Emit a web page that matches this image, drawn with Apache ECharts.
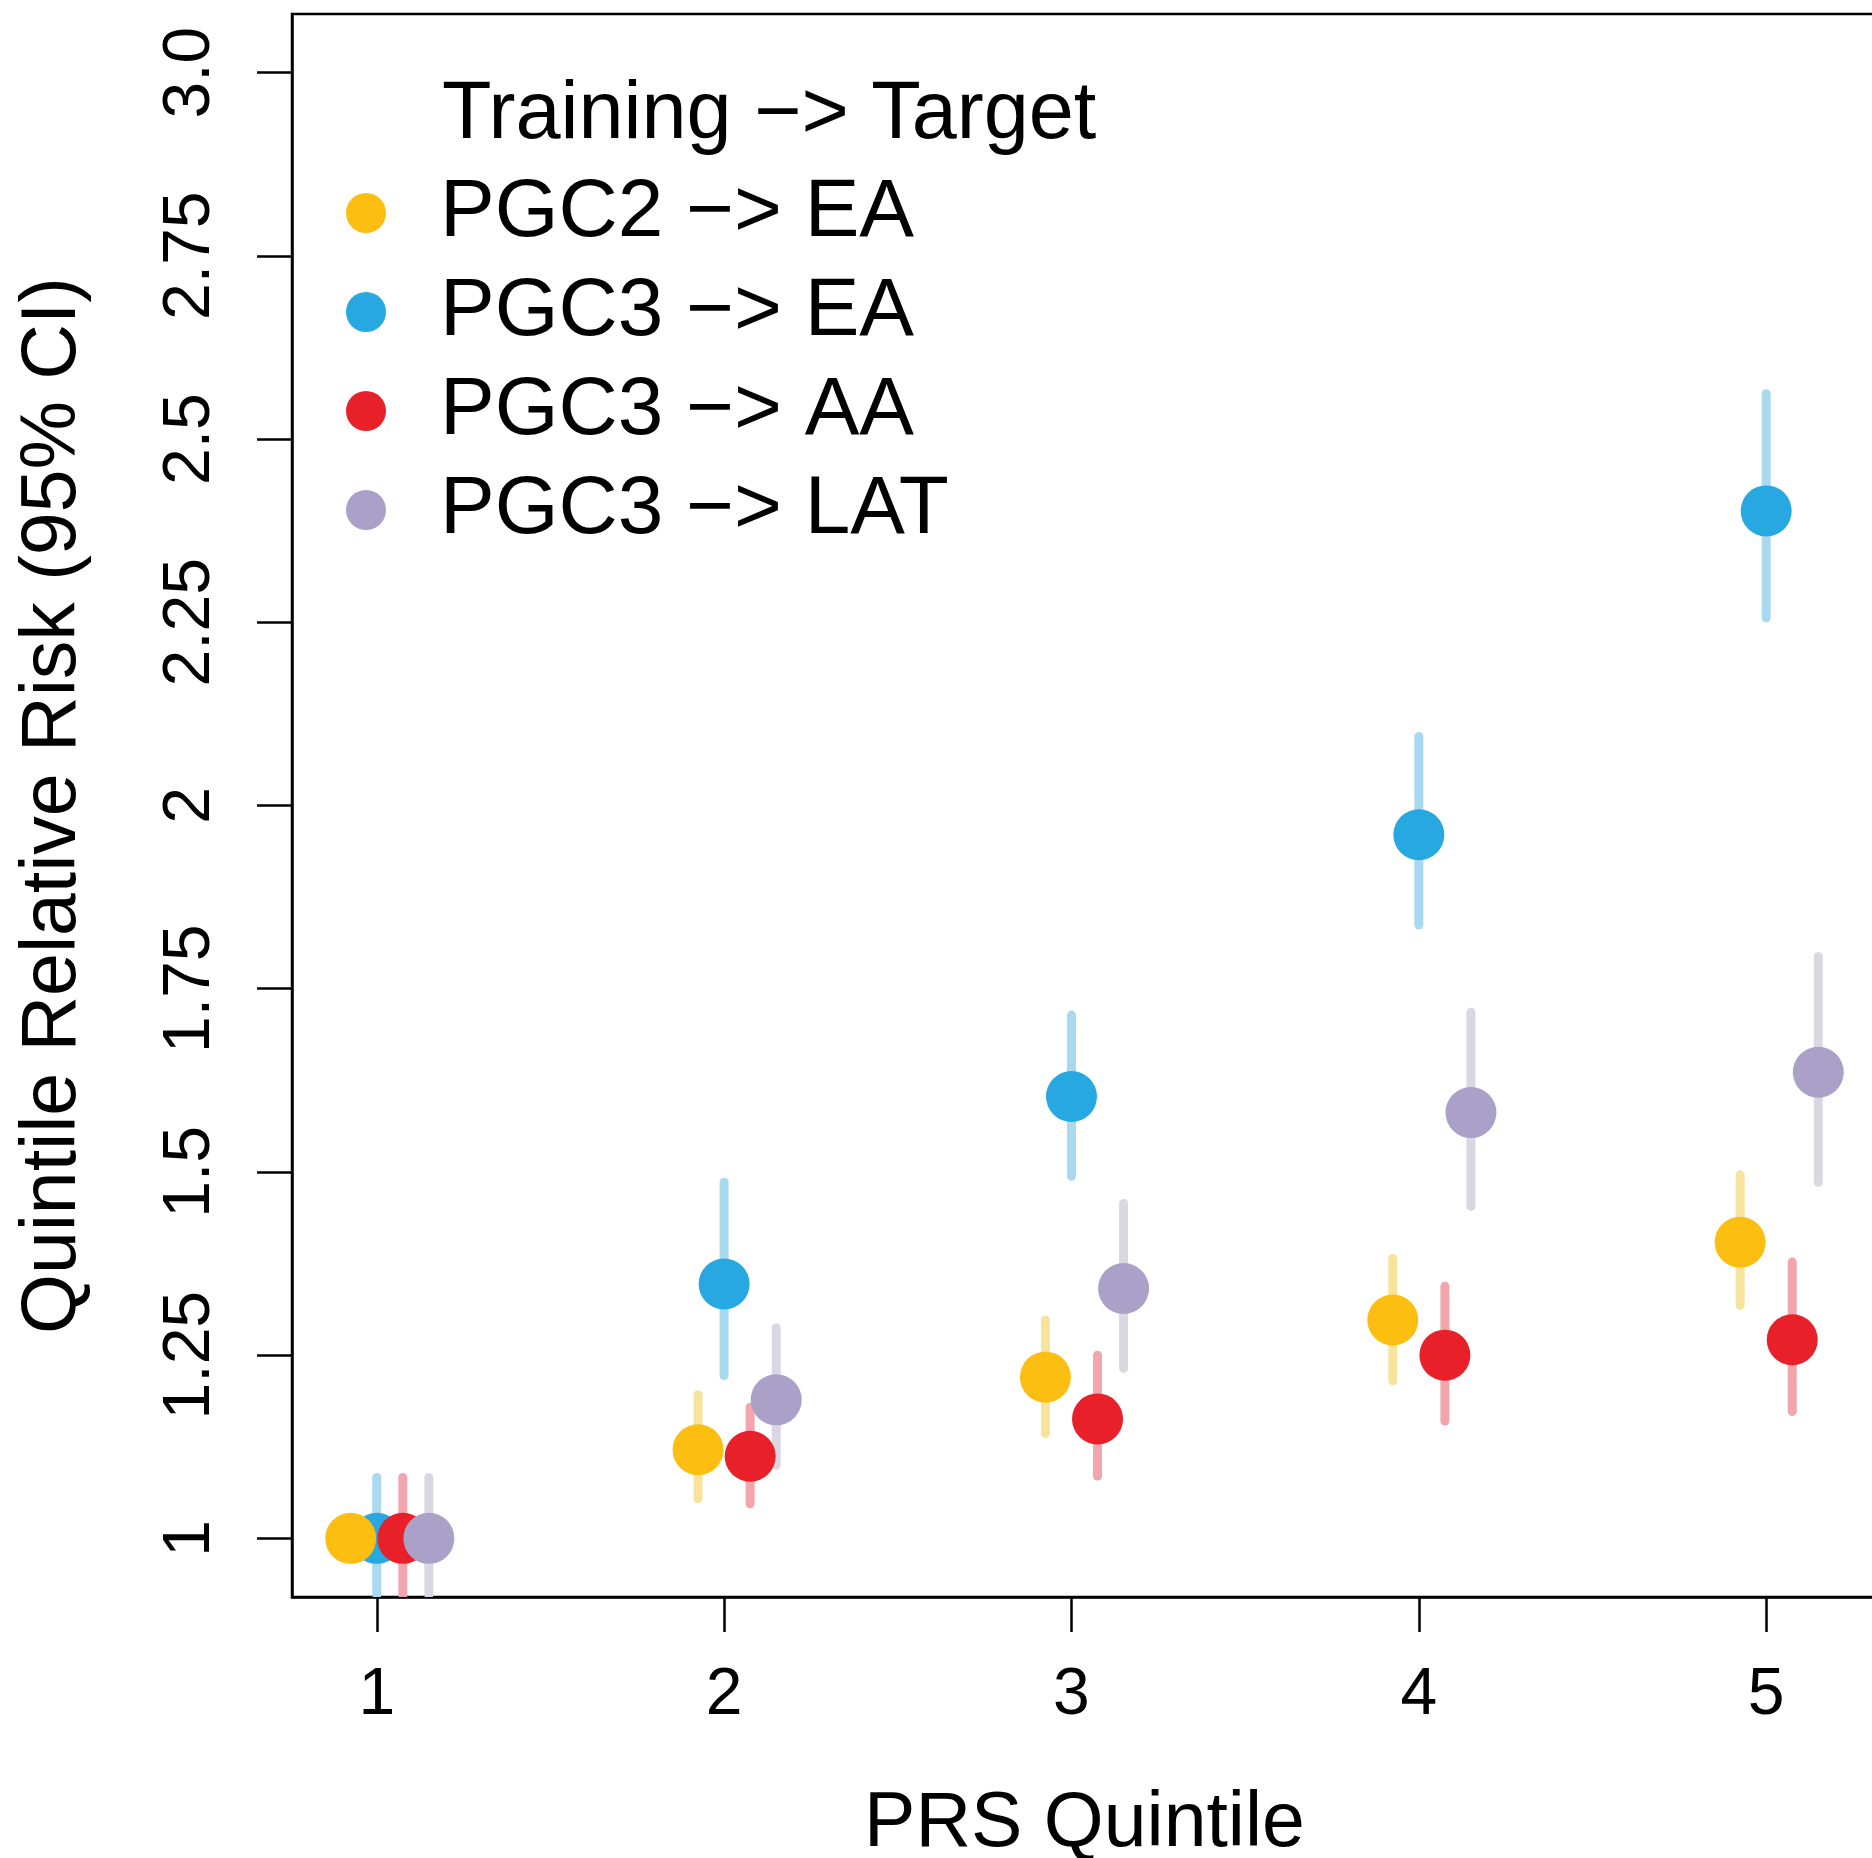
<!DOCTYPE html>
<html>
<head>
<meta charset="utf-8">
<script src="https://cdn.jsdelivr.net/npm/echarts@6/dist/echarts.min.js"></script>
<style>
html,body{margin:0;padding:0;background:#fff;}
#chart{width:1872px;height:1858px;}
</style>
</head>
<body>
<div id="chart"></div>
<script>
// ---- data ----
const quintiles = [1, 2, 3, 4, 5];
const seriesNames = ['PGC2 \u2212> EA', 'PGC3 \u2212> EA', 'PGC3 \u2212> AA', 'PGC3 \u2212> LAT'];
const legendTitle = 'Training \u2212> Target';

const pgc2EA_rr = [1.000, 1.121, 1.220, 1.298, 1.404];
const pgc2EA_lo = [null, 1.054, 1.143, 1.215, 1.318];
const pgc2EA_hi = [null, 1.196, 1.298, 1.382, 1.496];

const pgc3EA_rr = [1.000, 1.347, 1.603, 1.960, 2.402];
const pgc3EA_lo = [0.923, 1.222, 1.494, 1.837, 2.256];
const pgc3EA_hi = [1.083, 1.486, 1.714, 2.094, 2.562];

const pgc3AA_rr = [1.000, 1.112, 1.163, 1.250, 1.271];
const pgc3AA_lo = [0.923, 1.047, 1.085, 1.160, 1.173];
const pgc3AA_hi = [1.083, 1.179, 1.250, 1.344, 1.377];

const pgc3LAT_rr = [1.000, 1.189, 1.341, 1.581, 1.636];
const pgc3LAT_lo = [0.923, 1.100, 1.232, 1.453, 1.486];
const pgc3LAT_hi = [1.083, 1.287, 1.457, 1.718, 1.794];

const xTickValues = [1, 2, 3, 4, 5];
const xTickLabels = ['1', '2', '3', '4', '5'];
const yTickValues = [1, 1.25, 1.5, 1.75, 2, 2.25, 2.5, 2.75, 3];
const yTickLabels = ['1', '1.25', '1.5', '1.75', '2', '2.25', '2.5', '2.75', '3.0'];

// ---- styles ----
const FONT = "'Liberation Sans', Arial, Helvetica, sans-serif";
const dodge = [-0.075, 0, 0.075, 0.15];
const pointColors = ['#FDBE12', '#27A8E0', '#E8202A', '#ABA0C8'];
const barColors = ['#F8E39C', '#A8D9EE', '#F2A5AD', '#DAD7E3'];
const drawOrder = [1, 0, 2, 3]; // blue drawn underneath

const rrs = [pgc2EA_rr, pgc3EA_rr, pgc3AA_rr, pgc3LAT_rr];
const los = [pgc2EA_lo, pgc3EA_lo, pgc3AA_lo, pgc3LAT_lo];
const his = [pgc2EA_hi, pgc3EA_hi, pgc3AA_hi, pgc3LAT_hi];

const series = [];
// CI bars
for (const s of drawOrder) {
  const data = [];
  quintiles.forEach((q, i) => {
    if (los[s][i] != null && his[s][i] != null) data.push([q + dodge[s], los[s][i], his[s][i]]);
  });
  series.push({
    type: 'custom',
    name: seriesNames[s] + ' CI',
    clip: true,
    z: 2,
    silent: true,
    data: data,
    renderItem: (params, api) => {
      const p1 = api.coord([api.value(0), api.value(1)]);
      const p2 = api.coord([api.value(0), api.value(2)]);
      return {
        type: 'line',
        shape: { x1: p1[0], y1: p1[1], x2: p2[0], y2: p2[1] },
        style: { stroke: barColors[s], lineWidth: 9, lineCap: 'round' }
      };
    }
  });
}
// points
for (const s of drawOrder) {
  series.push({
    type: 'scatter',
    name: seriesNames[s],
    z: 3,
    symbol: 'circle',
    symbolSize: 51,
    itemStyle: { color: pointColors[s], opacity: 1 },
    emphasis: { disabled: true },
    data: quintiles.map((q, i) => [q + dodge[s], rrs[s][i]])
  });
}

const chart = echarts.init(document.getElementById('chart'), null, { renderer: 'canvas' });
chart.setOption({
  animation: false,
  backgroundColor: '#ffffff',
  textStyle: { fontFamily: FONT },
  color: pointColors,
  title: {
    text: legendTitle,
    left: 442,
    top: 76,
    padding: 0,
    textStyle: { fontFamily: FONT, fontSize: 81, lineHeight: 80, fontWeight: 'normal', color: '#000' }
  },
  legend: {
    orient: 'vertical',
    left: 346,
    top: 172,
    padding: 0,
    itemGap: 17,
    itemWidth: 40,
    itemHeight: 40,
    icon: 'circle',
    data: seriesNames.map((n, i) => ({ name: n, itemStyle: { color: pointColors[i] } })),
    textStyle: { fontFamily: FONT, fontSize: 82, lineHeight: 80, color: '#000', padding: [0, 0, 0, 49] },
    selectedMode: false
  },
  grid: {
    left: 292,
    top: 14,
    width: 1585,
    height: 1583,
    show: true,
    borderColor: '#000',
    borderWidth: 2.5,
    backgroundColor: 'transparent',
    containLabel: false,
    outerBoundsMode: 'none'
  },
  xAxis: {
    type: 'value',
    min: 0.756,
    max: 5.319,
    name: 'PRS Quintile',
    nameLocation: 'middle',
    nameGap: 189,
    nameTextStyle: { fontFamily: FONT, fontSize: 77, lineHeight: 77, color: '#000' },
    splitLine: { show: false },
    axisLine: { show: true, onZero: false, lineStyle: { color: '#000', width: 2.5 } },
    axisTick: { show: true, length: 35, lineStyle: { color: '#000', width: 2.5 }, customValues: xTickValues },
    axisLabel: {
      show: true, margin: 66, fontFamily: FONT, fontSize: 66, lineHeight: 66, color: '#000',
      customValues: xTickValues,
      formatter: v => xTickLabels[xTickValues.indexOf(v)] ?? ''
    }
  },
  yAxis: {
    type: 'value',
    min: 0.92,
    max: 3.08,
    name: 'Quintile Relative Risk (95% CI)',
    nameLocation: 'middle',
    nameRotate: 90,
    nameGap: 200,
    nameTextStyle: { fontFamily: FONT, fontSize: 77, lineHeight: 77, color: '#000' },
    splitLine: { show: false },
    axisLine: { show: true, onZero: false, lineStyle: { color: '#000', width: 2.5 } },
    axisTick: { show: true, length: 35, lineStyle: { color: '#000', width: 2.5 }, customValues: yTickValues },
    axisLabel: {
      show: true, margin: 68, rotate: 90, fontFamily: FONT, fontSize: 66, lineHeight: 66, color: '#000',
      customValues: yTickValues,
      formatter: v => {
        const i = yTickValues.findIndex(t => Math.abs(t - v) < 1e-9);
        return i >= 0 ? yTickLabels[i] : '';
      }
    }
  },
  series: series
});
</script>
</body>
</html>
